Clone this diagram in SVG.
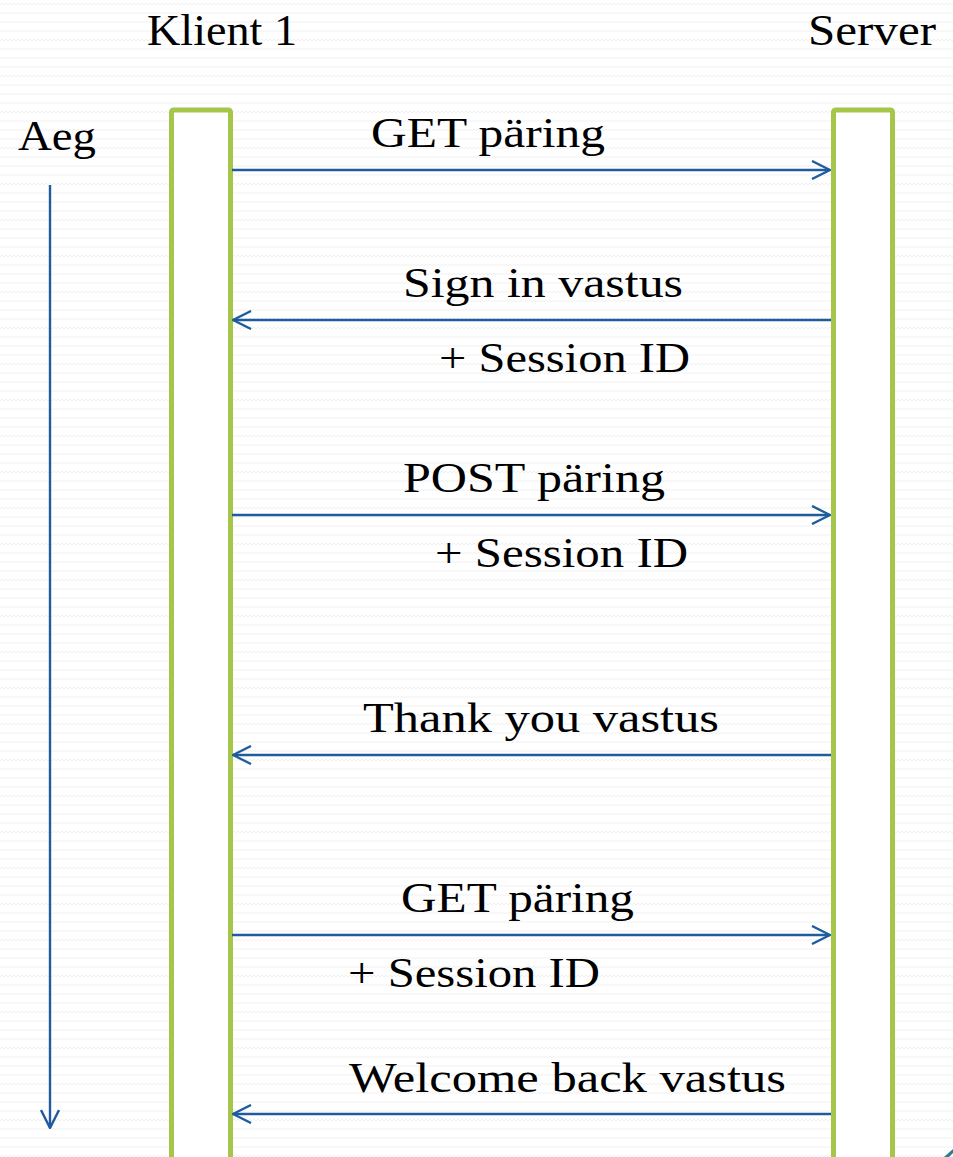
<svg xmlns="http://www.w3.org/2000/svg" width="953" height="1157" viewBox="0 0 953 1157">
<defs>
<pattern id="bg" x="0" y="0" width="8" height="9" patternUnits="userSpaceOnUse">
<rect width="8" height="9" fill="#ffffff"/>
<polyline points="0,5 2,3 4,5 6,3 8,5" fill="none" stroke="#f1f1f1" stroke-width="1"/>
</pattern>
<marker id="ah" viewBox="0 0 20 20" refX="19" refY="10" markerWidth="20" markerHeight="20" markerUnits="userSpaceOnUse" orient="auto">
<polyline points="1,1 19,10 1,19" fill="none" stroke="#1f5c9e" stroke-width="2.4"/>
</marker>
</defs>
<style>
.t{font-family:"Liberation Serif","DejaVu Serif",serif;font-size:42px;fill:#000}
.h{font-family:"Liberation Serif","DejaVu Serif",serif;font-size:44px;fill:#000}
.life{fill:#ffffff;stroke:#a5c64a;stroke-width:5}
.msg{stroke:#1f5c9e;stroke-width:2.4;fill:none;marker-end:url(#ah)}
</style>
<rect width="953" height="1157" fill="url(#bg)"/>
<g id="klient">
<rect class="life" x="171.5" y="110" width="59" height="1080" rx="2"/>
<text class="h" x="147" y="45" textLength="150" lengthAdjust="spacingAndGlyphs">Klient 1</text>
</g>
<g id="server">
<rect class="life" x="833.5" y="110" width="59" height="1080" rx="2"/>
<text class="h" x="808" y="45" textLength="128" lengthAdjust="spacingAndGlyphs">Server</text>
</g>
<g id="aeg">
<text class="t" x="18" y="150" textLength="78" lengthAdjust="spacingAndGlyphs">Aeg</text>
</g>
<g id="connectors">
<line class="msg" x1="50" y1="185" x2="50" y2="1128"/>
<line class="msg" x1="232" y1="170" x2="830" y2="170"/>
<line class="msg" x1="831" y1="320" x2="233" y2="320"/>
<line class="msg" x1="232" y1="515" x2="830" y2="515"/>
<line class="msg" x1="831" y1="755" x2="233" y2="755"/>
<line class="msg" x1="232" y1="935" x2="830" y2="935"/>
<line class="msg" x1="831" y1="1114" x2="233" y2="1114"/>
</g>
<g id="labels">
<text class="t" x="371" y="147" textLength="234" lengthAdjust="spacingAndGlyphs">GET päring</text>
<text class="t" x="403" y="297" textLength="280" lengthAdjust="spacingAndGlyphs">Sign in vastus</text>
<text class="t" x="439" y="372" textLength="251" lengthAdjust="spacingAndGlyphs">+ Session ID</text>
<text class="t" x="403" y="492" textLength="262" lengthAdjust="spacingAndGlyphs">POST päring</text>
<text class="t" x="435" y="567" textLength="253" lengthAdjust="spacingAndGlyphs">+ Session ID</text>
<text class="t" x="363" y="732" textLength="356" lengthAdjust="spacingAndGlyphs">Thank you vastus</text>
<text class="t" x="401" y="912" textLength="233" lengthAdjust="spacingAndGlyphs">GET päring</text>
<text class="t" x="348" y="987" textLength="252" lengthAdjust="spacingAndGlyphs">+ Session ID</text>
<text class="t" x="349" y="1092" textLength="437" lengthAdjust="spacingAndGlyphs">Welcome back vastus</text>
</g>
<polygon points="944,1157 953,1149 953,1153 949,1157" fill="#2a7f8f"/>
</svg>
